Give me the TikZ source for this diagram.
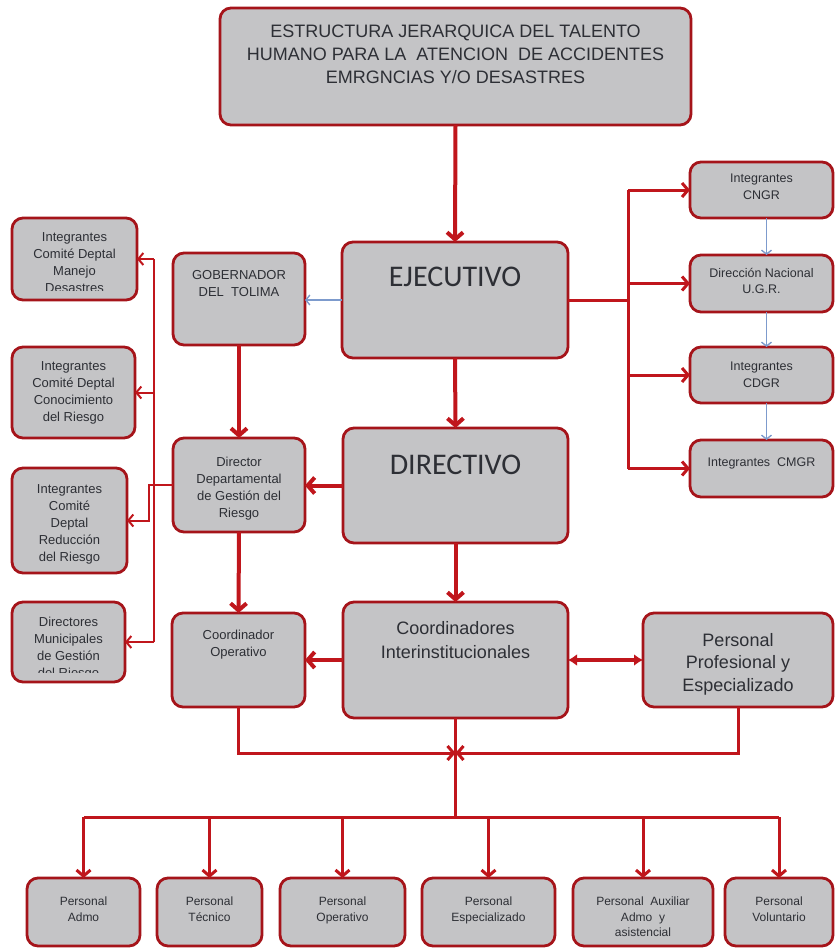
\documentclass[tikz,border=0pt]{standalone}
\usepackage{fontspec}
\setmainfont{Liberation Sans}
\newfontfamily\calib{Carlito}
\usetikzlibrary{arrows.meta}
\definecolor{bred}{RGB}{165,20,26}
\definecolor{ared}{RGB}{192,22,28}
\definecolor{bfill}{RGB}{196,196,198}
\definecolor{btext}{RGB}{45,47,53}
\definecolor{ablue}{RGB}{125,155,205}
\tikzset{
 boxst/.style={draw=bred, line width=2.8pt, fill=bfill, rounded corners=11pt, inner sep=0pt, outer sep=0pt, anchor=north west},
 txt/.style={text=btext, align=center, inner sep=0pt, outer sep=0pt, minimum width=0pt, minimum height=0pt, draw=none, fill=none},
 fsa/.style={font=\fontsize{13}{17}\selectfont},
 fsr/.style={font=\fontsize{12.5}{16.5}\selectfont},
 fsb/.style={font=\fontsize{12}{15.5}\selectfont},
 fsl/.style={font=\fontsize{18}{24}\selectfont},
 fsp/.style={font=\fontsize{18}{22.5}\selectfont},
 fst/.style={font=\fontsize{18}{23}\selectfont},
 fsc/.style={font=\calib\fontsize{30}{34}\selectfont},
 tarrow/.style={draw=ared, line width=4pt, -{Straight Barb[length=7pt,width=16pt]}},
 marrow/.style={draw=ared, line width=3pt, -{Straight Barb[length=6pt,width=14pt]}},
 mline/.style={draw=ared, line width=3pt},
 sarrow/.style={draw=ared, line width=2pt, -{Straight Barb[length=5pt,width=12pt]}},
 sline/.style={draw=ared, line width=2pt},
 barrow/.style={draw=ablue, line width=1.4pt, -{Straight Barb[length=4pt,width=10pt]}},
 darrow/.style={draw=ared, line width=4pt, {Latex[length=9pt,width=12pt]}-{Latex[length=9pt,width=12pt]}},
}
\newcommand\mkbox[8]{\node[boxst, minimum width={#4pt-#2pt}, minimum height={#5pt-#3pt}, path picture={\clip ([yshift=10pt]path picture bounding box.south west) rectangle (path picture bounding box.north east); \node[txt,#7,anchor=north] at ([yshift=-#6pt]path picture bounding box.north) {#8};}] (#1) at (#2,#3) {};}
\begin{document}
\begin{tikzpicture}[x=1pt,y=-1pt]
\useasboundingbox (0,0) rectangle (836,950);
% boxes
\mkbox{title}{220}{8}{691}{125}{17}{fst}{ESTRUCTURA JERARQUICA DEL TALENTO\\HUMANO PARA LA~ ATENCION~ DE ACCIDENTES\\EMRGNCIAS Y/O DESASTRES}
\mkbox{EJ}{342}{242}{568}{358}{25}{fsc}{EJECUTIVO}
\mkbox{DIR}{343}{428}{568}{543}{27}{fsc}{DIRECTIVO}
\mkbox{COO}{343}{602}{568}{718}{19}{fsl}{Coordinadores\\Interinstitucionales}
\mkbox{PP}{643}{613}{833}{707}{20}{fsp}{Personal\\Profesional y\\Especializado}
\mkbox{GOB}{173}{253}{305}{345}{17}{fsa}{GOBERNADOR\\DEL~ TOLIMA}
\mkbox{DDG}{173}{438}{305}{532}{19}{fsa}{Director\\Departamental\\de Gestión del\\Riesgo}
\mkbox{COP}{172}{613}{305}{707}{17}{fsa}{Coordinador\\Operativo}
\mkbox{L1}{12}{218}{137}{300}{15}{fsa}{Integrantes\\Comité Deptal\\Manejo\\Desastres}
\mkbox{L2}{12}{347}{135}{438}{15}{fsa}{Integrantes\\Comité Deptal\\Conocimiento\\del Riesgo}
\mkbox{L3}{12}{468}{127}{573}{17}{fsa}{Integrantes\\Comité\\Deptal\\Reducción\\del Riesgo}
\mkbox{L4}{12}{602}{125}{682}{15}{fsa}{Directores\\Municipales\\de Gestión\\del Riesgo}
\mkbox{CNGR}{690}{162}{833}{218}{12}{fsr}{Integrantes\\CNGR}
\mkbox{DNU}{690}{255}{833}{312}{13}{fsr}{Dirección Nacional\\U.G.R.}
\mkbox{CDGR}{690}{347}{833}{403}{15}{fsr}{Integrantes\\CDGR}
\mkbox{CMGR}{690}{440}{833}{497}{18}{fsr}{Integrantes~ CMGR}
\mkbox{B1}{27}{878}{140}{946}{19}{fsb}{Personal\\Admo}
\mkbox{B2}{157}{878}{262}{946}{19}{fsb}{Personal\\Técnico}
\mkbox{B3}{280}{878}{405}{946}{19}{fsb}{Personal\\Operativo}
\mkbox{B4}{422}{878}{555}{946}{19}{fsb}{Personal\\Especializado}
\mkbox{B5}{573}{878}{713}{946}{19}{fsb}{Personal~ Auxiliar\\Admo~ y\\asistencial}
\mkbox{B6}{725}{878}{833}{946}{19}{fsb}{Personal\\Voluntario}
% main vertical connectors
\draw[tarrow] (title.south) -- (EJ.north);
\draw[tarrow] (EJ.south) -- (DIR.north);
\draw[tarrow] (DIR.south) -- (COO.north);
\draw[tarrow] (GOB.south) -- (DDG.north);
\draw[tarrow] (DDG.south) -- (COP.north);
\draw[tarrow] (DIR.west) -- (DIR.west -| DDG.east);
\draw[tarrow] (COO.west) -- (COO.west -| COP.east);
\draw[darrow] (COO.east) -- (COO.east -| PP.west);
\draw[barrow] (EJ.west) -- (EJ.west -| GOB.east);
% right branch
\coordinate (rv) at (628,0);
\draw[mline] (EJ.east) -- (EJ.east -| rv);
\draw[mline] (rv |- CNGR.west) -- (rv |- CMGR.west);
\foreach \b in {CNGR,DNU,CDGR,CMGR} \draw[marrow] (rv |- \b.west) -- (\b.west);
\draw[barrow] ([xshift=5pt]CNGR.south) -- ([xshift=5pt]DNU.north);
\draw[barrow] ([xshift=5pt]DNU.south) -- ([xshift=5pt]CDGR.north);
\draw[barrow] ([xshift=5pt]CDGR.south) -- ([xshift=5pt]CMGR.north);
% left branch
\coordinate (lv) at (154,0);
\coordinate (lj) at (149,0);
\draw[sline] (DDG.west) -- (DDG.west -| lv);
\draw[sline] (lv |- L1.east) -- (lv |- L4.east);
\foreach \b in {L1,L2,L4} \draw[sarrow] (lv |- \b.east) -- (\b.east);
\draw[sarrow] (DDG.west -| lv) -- (DDG.west -| lj) -- (lj |- L3.east) -- (L3.east);
% bottom
\coordinate (mg) at (455.5,753);
\coordinate (bus) at (0,817);
\draw[marrow] (COP.south) |- (mg);
\draw[marrow] (PP.south) |- (mg);
\draw[mline] (COO.south) -- (COO.south |- bus);
\draw[mline] (B1.north |- bus) -- (B6.north |- bus);
\foreach \b in {B1,B2,B3,B4,B5,B6} \draw[marrow] (\b.north |- bus) -- (\b.north);
\end{tikzpicture}
\end{document}
